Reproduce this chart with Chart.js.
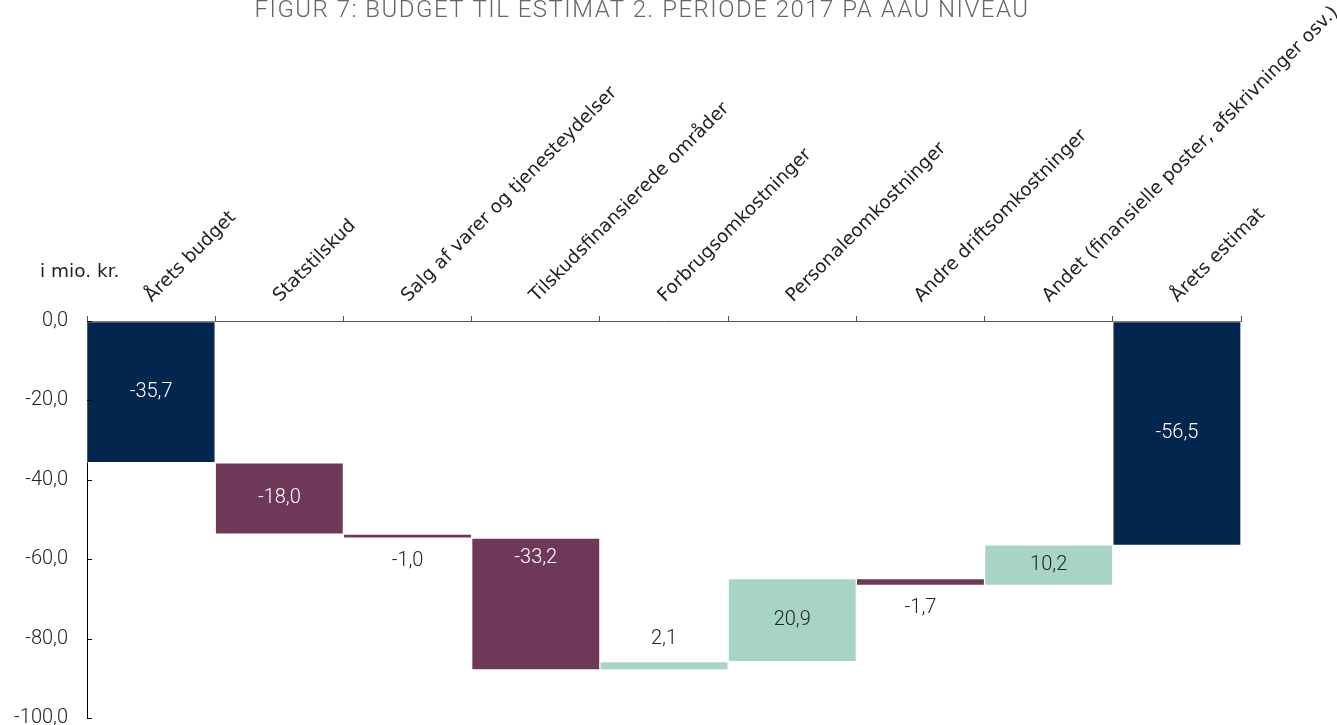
<!DOCTYPE html>
<html lang="da">
<head>
  <meta charset="UTF-8">
  <title>Figur 7: Budget til estimat</title>
  <style>
    body { margin: 0; background: #fff; overflow: hidden; }
    #wrap { width: 1337px; height: 749px; position: relative; }
  </style>
  <script src="https://cdn.jsdelivr.net/npm/chart.js"></script>
</head>
<body>
  <div id="wrap"><canvas id="chart"></canvas></div>
  <script>
    const categories = ['Årets budget', 'Statstilskud', 'Salg af varer og tjenesteydelser',
      'Tilskudsfinansierede områder', 'Forbrugsomkostninger', 'Personaleomkostninger',
      'Andre driftsomkostninger', 'Andet (finansielle poster, afskrivninger osv.)', 'Årets estimat'];
    const starts = [0, -35.7, -53.7, -54.7, -87.9, -85.8, -64.9, -66.6, 0];
    const changes = [-35.7, -18.0, -1.0, -33.2, 2.1, 20.9, -1.7, 10.2, -56.5];
    const yTicks = [0, -20, -40, -60, -80, -100];

    const NAVY = '#03264f', PLUM = '#6f3758', MINT = '#a8d4c5';
    const barColors = changes.map((v, i) => (i === 0 || i === changes.length - 1) ? NAVY : (v < 0 ? PLUM : MINT));
    const labelColors = barColors.map(c => c === MINT ? '#222' : '#fff');
    // where the value label sits relative to its bar
    const labelAnchor = ['center', 'center', 'below', 'top', 'above', 'center', 'below', 'center', 'center'];

    const fmt = v => v.toFixed(1).replace('.', ',');

    const extras = {
      id: 'extras',
      afterDatasetsDraw(chart) {
        const ctx = chart.ctx, y = chart.scales.y;
        const area = chart.chartArea;
        ctx.save();
        // inner ticks on the y axis
        ctx.strokeStyle = '#000';
        ctx.lineWidth = 1;
        yTicks.forEach(t => {
          const py = Math.round(y.getPixelForValue(t)) + 0.5;
          ctx.beginPath();
          ctx.moveTo(area.left, py);
          ctx.lineTo(area.left + 5, py);
          ctx.stroke();
        });
        // value labels
        ctx.font = '300 20px Roboto';
        ctx.textAlign = 'center';
        ctx.textBaseline = 'middle';
        const meta = chart.getDatasetMeta(0);
        meta.data.forEach((bar, i) => {
          const top = Math.min(bar.y, bar.base), bot = Math.max(bar.y, bar.base);
          let ly = (top + bot) / 2, col = labelColors[i];
          if (labelAnchor[i] === 'below') { ly = bot + 23; col = '#222'; }
          if (labelAnchor[i] === 'above') { ly = top - 23; col = '#222'; }
          if (labelAnchor[i] === 'top') { ly = top + 20; }
          ctx.fillStyle = col;
          ctx.fillText(fmt(changes[i]), bar.x, ly);
        });
        // unit label
        ctx.textAlign = 'left';
        ctx.fillStyle = '#222';
        ctx.font = '18.5px "DejaVu Sans"';
        ctx.fillText('i mio. kr.', 40, 272);
        // clipped title
        ctx.font = '300 24px Roboto';
        ctx.fillStyle = '#666';
        ctx.textAlign = 'center';
        ctx.textBaseline = 'alphabetic';
        const title = 'FIGUR 7: BUDGET TIL ESTIMAT 2. PERIODE 2017 PÅ AAU NIVEAU';
        const w = ctx.measureText(title).width;
        ctx.letterSpacing = ((775 - w) / title.length) + 'px';
        ctx.fillText(title, 642, 17);
        ctx.restore();
      }
    };

    new Chart(document.getElementById('chart'), {
      type: 'bar',
      data: {
        labels: categories,
        datasets: [{
          data: starts.map((s, i) => [s, s + changes[i]]),
          backgroundColor: barColors,
          borderColor: 'rgba(255,255,255,0.45)',
          borderWidth: 1,
          borderSkipped: false,
          barPercentage: 1,
          categoryPercentage: 1
        }]
      },
      options: {
        responsive: true,
        maintainAspectRatio: false,
        animation: false,
        layout: { padding: { left: 0, right: 96, top: 0, bottom: 0 } },
        plugins: { legend: { display: false }, tooltip: { enabled: false }, title: { display: false } },
        scales: {
          x: {
            position: 'top',
            offset: true,
            afterFit: s => { s.height = 321; },
            grid: { offset: true, drawOnChartArea: false, tickLength: 5, color: '#555' },
            border: { color: '#555', width: 1 },
            ticks: {
              autoSkip: false, maxRotation: 45, minRotation: 45, padding: 9, labelOffset: 13,
              color: '#222', font: { family: 'DejaVu Sans', size: 18.5 }
            }
          },
          y: {
            min: -100, max: 0,
            afterFit: s => { s.width = 87; },
            afterBuildTicks: s => { s.ticks = yTicks.map(v => ({ value: v })); },
            grid: { drawOnChartArea: false, drawTicks: false },
            border: { color: '#000', width: 1 },
            ticks: {
              padding: 19,
              color: '#222', font: { family: 'Roboto', size: 20, weight: '300' },
              callback: v => fmt(v)
            }
          }
        }
      },
      plugins: [extras]
    });
  </script>
</body>
</html>
